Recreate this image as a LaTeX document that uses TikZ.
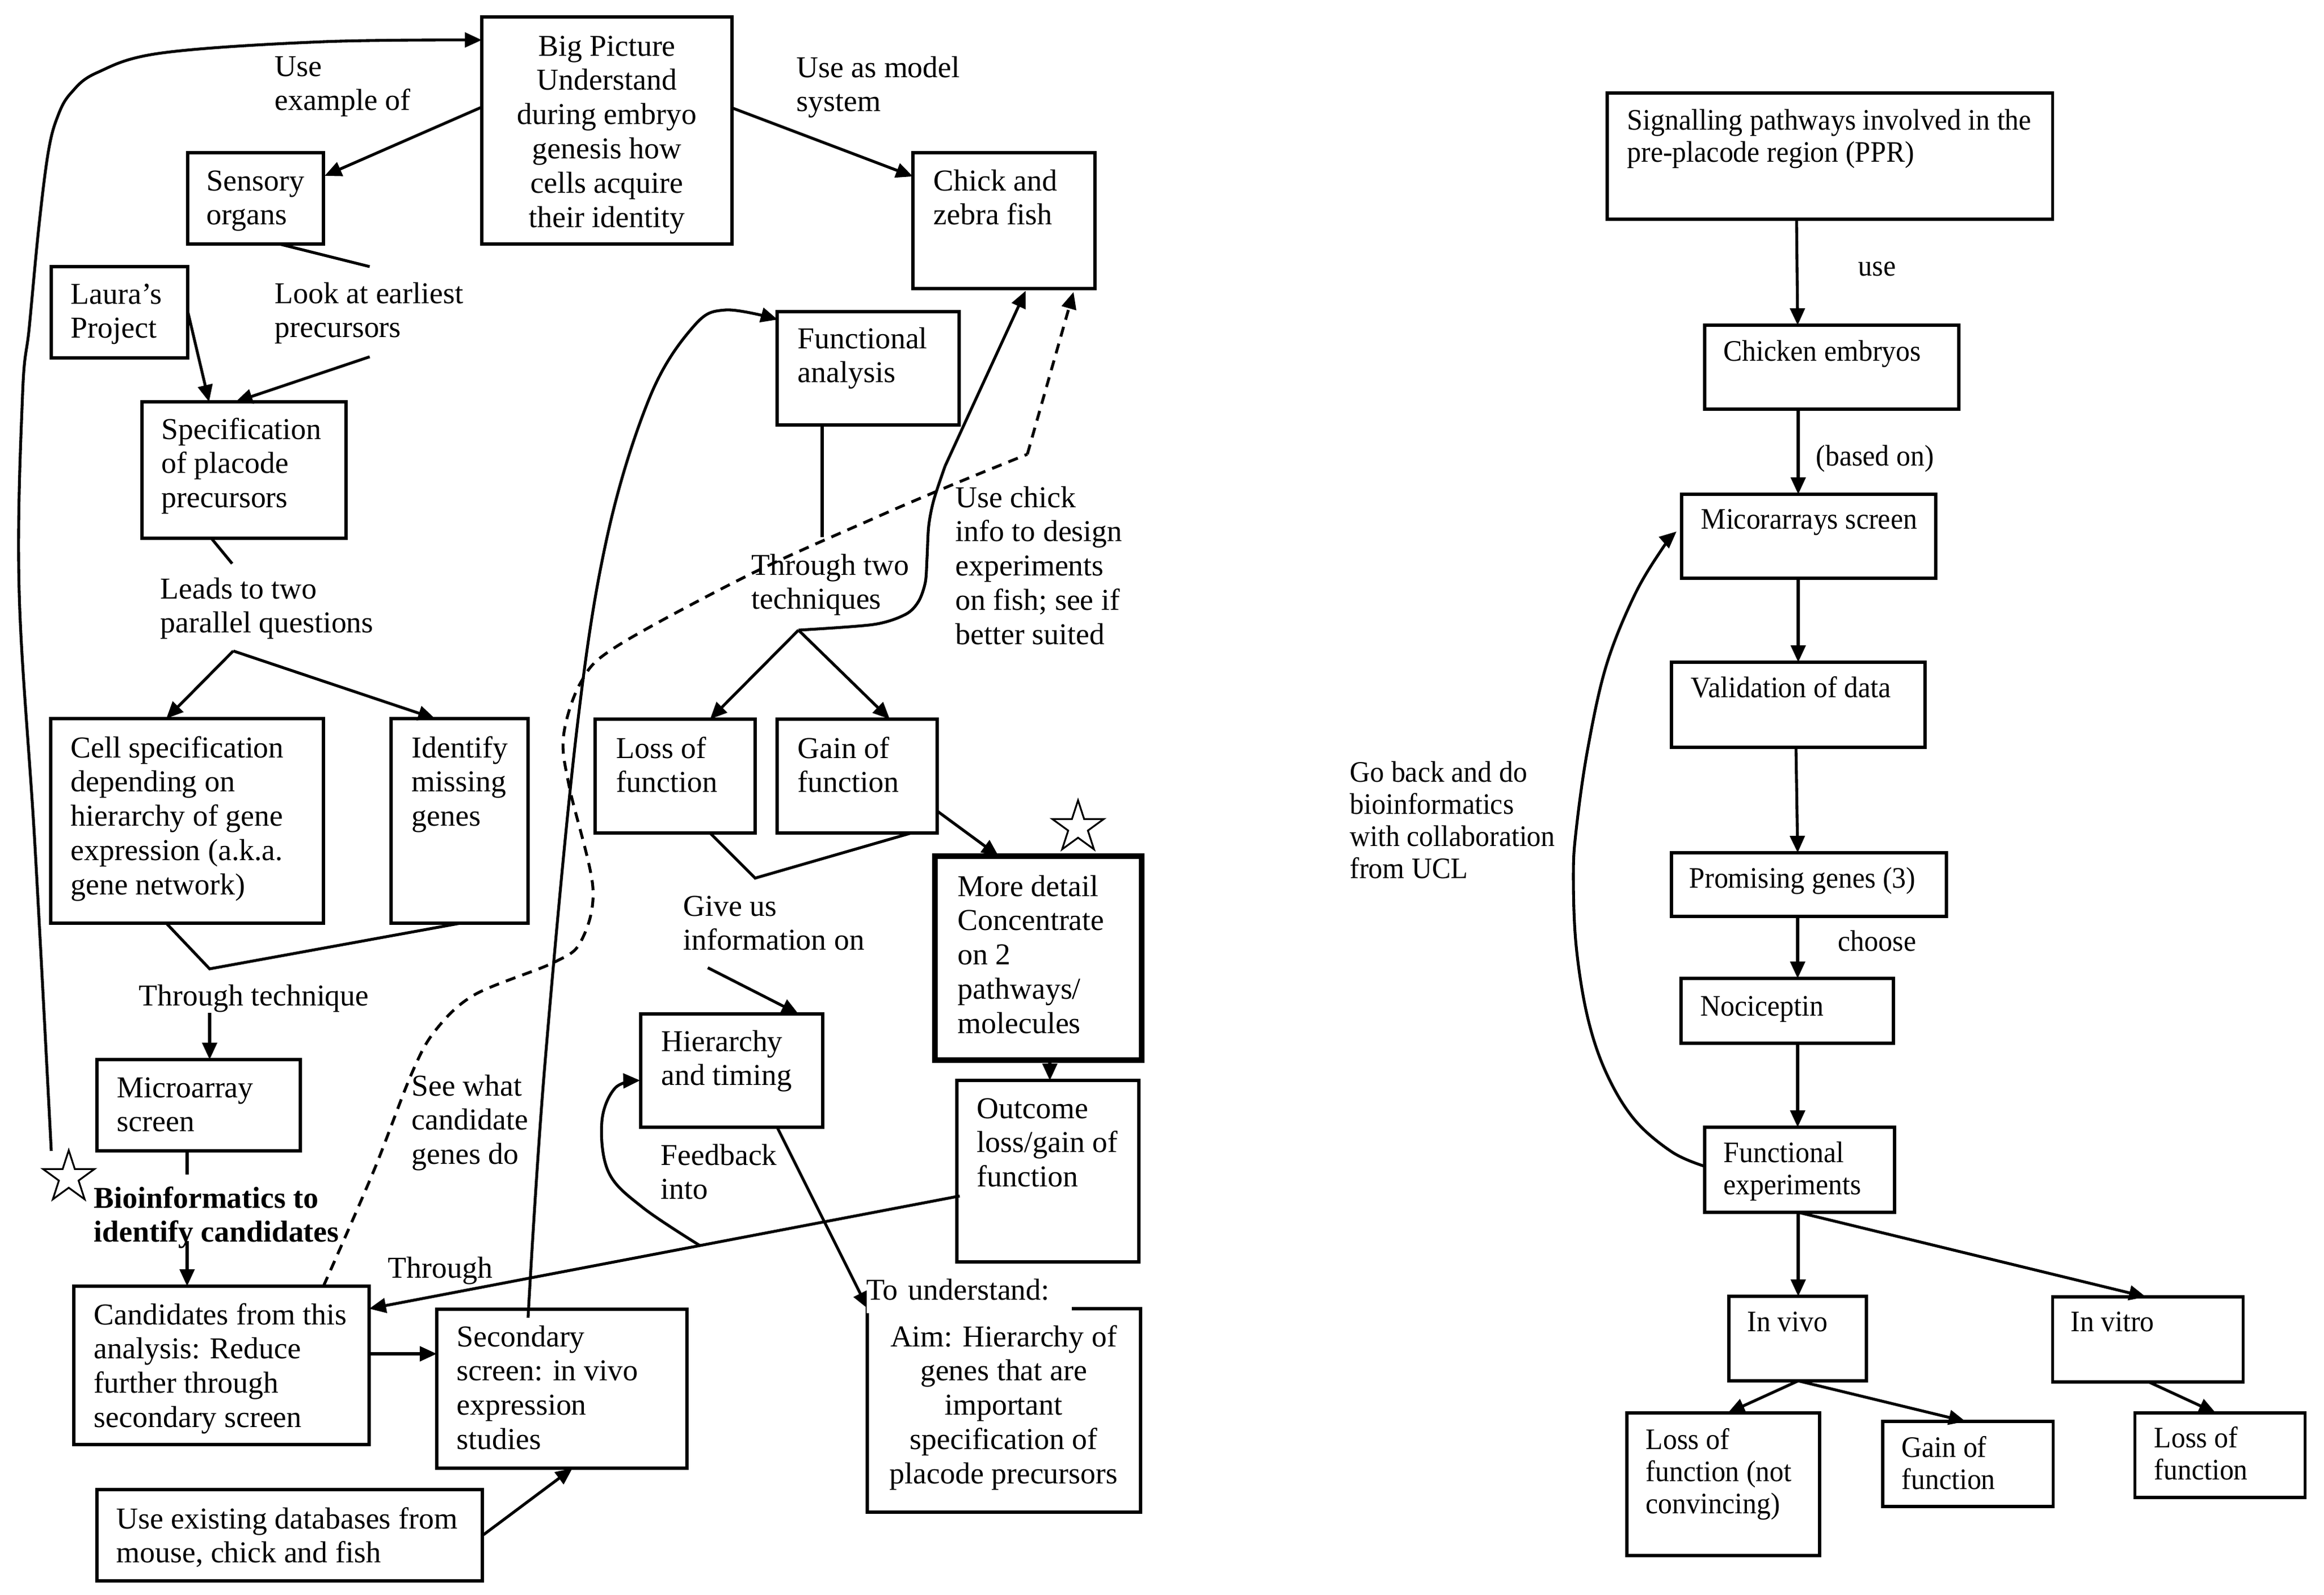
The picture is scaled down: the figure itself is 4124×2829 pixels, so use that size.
\documentclass[tikz,border=0pt]{standalone}
\usepackage{fontspec}
\setmainfont{Liberation Serif}
\newfontfamily\rfam[FakeStretch=0.945]{Liberation Serif}
\usetikzlibrary{arrows.meta,fit,shapes.geometric}
\newcommand{\mytl}[1]{\begin{tabular}[t]{@{}l@{}}#1\end{tabular}}
\newcommand{\mytc}[1]{\begin{tabular}[t]{@{}c@{}}#1\end{tabular}}
\begin{document}
\begin{tikzpicture}[x=0.01cm,y=-0.01cm,
  box/.style={draw, line width=1.45pt, inner sep=0pt},
  thickbox/.style={draw, line width=2.9pt, inner sep=0pt},
  lf/.style={font={\fontsize{15.3}{17.3}\selectfont}},
  lfb/.style={font={\fontsize{15.3}{17.3}\selectfont\bfseries}},
  rf/.style={font={\rfam\fontsize{15}{16.3}\selectfont}},
  tl/.style={anchor=base west, inner sep=0pt},
  tc/.style={anchor=base, inner sep=0pt},
  con/.style={line width=1.45pt},
  arr/.style={con, -{Triangle[length=0.3cm,width=0.26cm]}},
  starnode/.style={star, star points=5, star point ratio=2.618, draw, line width=0.9pt, minimum size=0.96cm, inner sep=0pt}
]
\path[use as bounding box, fill=white] (0,0) rectangle (4124,2829);

% ---------------- left diagram: boxes ----------------
\node[box, fit={(855,30)(1299,433)}] (bp) {};
\node[box, fit={(333,271)(574,433)}] (sens) {};
\node[box, fit={(91,473)(333,635)}] (laura) {};
\node[box, fit={(252,713)(614,955)}] (spec) {};
\node[box, fit={(1620,271)(1943,512)}] (chick) {};
\node[box, fit={(1379,553)(1702,754)}] (fa) {};
\node[box, fit={(90,1275)(574,1638)}] (cell) {};
\node[box, fit={(694,1275)(937,1638)}] (ident) {};
\node[box, fit={(1056,1276)(1340,1478)}] (loss) {};
\node[box, fit={(1379,1276)(1663,1478)}] (gain) {};
\node[thickbox, fit={(1659,1519)(2026,1881)}] (more) {};
\node[box, fit={(1137,1799)(1460,2000)}] (hier) {};
\node[box, fit={(172,1880)(533,2042)}] (micro) {};
\node[box, fit={(1698,1917)(2021,2239)}] (outc) {};
\node[box, fit={(131,2282)(655,2563)}] (cand) {};
\node[box, fit={(775,2323)(1219,2605)}] (sec) {};
\node[box, fit={(1539,2322)(2024,2683)}] (aim) {};
\node[box, fit={(172,2643)(856,2805)}] (db) {};

\node[starnode] (star1) at (122,2089) {};
\node[starnode] (star2) at (1913,1468) {};

% ---------------- left diagram: texts ----------------
\node[tc, lf] (tbp) at (1077,99) {\mytc{Big Picture\\Understand\\during embryo\\genesis how\\cells acquire\\their identity}};
\node[tl, lf] (tuse) at (487,135) {\mytl{Use\\example of}};
\node[tl, lf] (tsens) at (366,338) {\mytl{Sensory\\organs}};
\node[tl, lf] (tlaura) at (125,539) {\mytl{Laura's\\Project}};
\node[tl, lf] (tlook) at (487,538) {\mytl{Look at earliest\\precursors}};
\node[tl, lf] (tspec) at (286,779) {\mytl{Specification\\of placode\\precursors}};
\node[tl, lf] (tmodel) at (1413,137) {\mytl{Use as model\\system}};
\node[tl, lf] (tchick) at (1656,338) {\mytl{Chick and\\zebra fish}};
\node[tl, lf] (tfa) at (1415,618) {\mytl{Functional\\analysis}};
\node[tl, lf] (ttwo) at (1333,1020) {\mytl{Through two\\techniques}};
\node[tl, lf] (tuchick) at (1695,900) {\mytl{Use chick\\info to design\\experiments\\on fish; see if\\better suited}};
\node[tl, lf] (tleads) at (284,1062) {\mytl{Leads to two\\parallel questions}};
\node[tl, lf] (tcell) at (125,1344) {\mytl{Cell specification\\depending on\\hierarchy of gene\\expression (a.k.a.\\gene network)}};
\node[tl, lf] (tident) at (730,1344) {\mytl{Identify\\missing\\genes}};
\node[tl, lf] (tloss) at (1093,1345) {\mytl{Loss of\\function}};
\node[tl, lf] (tgain) at (1415,1345) {\mytl{Gain of\\function}};
\node[tl, lf] (ttech) at (246,1784) {Through technique};
\node[tl, lf] (tgive) at (1212,1625) {\mytl{Give us\\information on}};
\node[tl, lf] (tmore) at (1699,1590) {\mytl{More detail\\Concentrate\\on 2\\pathways/\\molecules}};
\node[tl, lf] (thier) at (1173,1865) {\mytl{Hierarchy\\and timing}};
\node[tl, lf] (tmicro) at (207,1947) {\mytl{Microarray\\screen}};
\node[tl, lf] (tsee) at (730,1944) {\mytl{See what\\candidate\\genes do}};
\node[tl, lf] (toutc) at (1733,1984) {\mytl{Outcome\\loss/gain of\\function}};
\node[tl, lf] (tfeed) at (1172,2067) {\mytl{Feedback\\into}};
\node[tl, lfb] (tbio) at (166,2143) {\mytl{Bioinformatics to\\identify candidates}};
\node[tl, lf] (tthr) at (688,2267) {Through};
\node[tl, lf] (tcand) at (166,2350) {\mytl{Candidates from this\\analysis: Reduce\\further through\\secondary screen}};
\node[tl, lf] (tsec) at (810,2389) {\mytl{Secondary\\screen: in vivo\\expression\\studies}};
\node[tc, lf] (taim) at (1781,2389) {\mytc{Aim: Hierarchy of\\genes that are\\important\\specification of\\placode precursors}};
\node[tl, lf] (tdb) at (206,2712) {\mytl{Use existing databases from\\mouse, chick and fish}};

% ---------------- left diagram: connector end points ----------------
\coordinate (lc1) at (91,2042);   \coordinate (lc2) at (855,71);
\coordinate (bpW) at (855,190);   \coordinate (sensE) at (576,312);
\coordinate (sensS) at (496,433); \coordinate (lookT) at (656,473);
\coordinate (lookB) at (656,633); \coordinate (specN) at (418,713);
\coordinate (lauraE) at (333,552);\coordinate (specN2) at (371,713);
\coordinate (specS) at (375,955); \coordinate (leadsT) at (412,1000);
\coordinate (bpE) at (1298,191);  \coordinate (chickW) at (1620,313);
\coordinate (secN) at (937,2338); \coordinate (faW) at (1380,567);
\coordinate (faS) at (1459,754);  \coordinate (twoT) at (1459,953);
\coordinate (fk2) at (1417,1118);
\coordinate (lossN) at (1260,1276); \coordinate (gainN) at (1579,1276);
\coordinate (bend) at (1677,827);
\coordinate (chickS) at (1820,516); \coordinate (chickS2) at (1905,518);
\coordinate (candN) at (574,2282);  \coordinate (dbend) at (1823,806);
\coordinate (fk1) at (414,1155);
\coordinate (cellN) at (295,1275);  \coordinate (identN) at (772,1275);
\coordinate (cellS) at (295,1638);  \coordinate (v1) at (372,1719); \coordinate (identS) at (817,1638);
\coordinate (techB) at (372,1797);  \coordinate (microN) at (372,1880);
\coordinate (microS) at (332,2042); \coordinate (bioT) at (332,2084);
\coordinate (bioB) at (332,2202);   \coordinate (candN2) at (332,2282);
\coordinate (candE) at (655,2402);  \coordinate (secW) at (775,2402);
\coordinate (dbE) at (858,2723);    \coordinate (secS) at (1016,2605);
\coordinate (outW) at (1703,2122);  \coordinate (candNE) at (655,2322);
\coordinate (hierS) at (1379,2000); \coordinate (aimNW) at (1540,2322);
\coordinate (giveB) at (1256,1717); \coordinate (hierN) at (1417,1799);
\coordinate (gainE) at (1663,1439); \coordinate (moreN) at (1772,1519);
\coordinate (moreS) at (1863,1881); \coordinate (outN) at (1863,1917);
\coordinate (lossS) at (1260,1478); \coordinate (v2) at (1340,1558); \coordinate (gainS) at (1617,1478);
\coordinate (fbS) at (1242,2210);   \coordinate (hierW) at (1136,1917);

% ---------------- left diagram: connectors ----------------
\draw[arr] plot[smooth, tension=0.6] coordinates {(lc1) (62,1500) (34,1050) (40,700) (52,580) (69,402) (86,268) (103,205) (126,165) (172,129) (287,94) (574,74) (lc2)};
\draw[arr] (bpW) -- (sensE);
\draw[con] (sensS) -- (lookT);
\draw[arr] (lookB) -- (specN);
\draw[arr] (lauraE) -- (specN2);
\draw[con] (specS) -- (leadsT);
\draw[arr] (bpE) -- (chickW);
\draw[arr] plot[smooth, tension=0.6] coordinates {(secN) (966,1900) (1023,1300) (1077,954) (1153,705) (1230,580) (1287,550) (faW)};
\draw[con] (faS) -- (twoT);
\draw[arr] (fk2) -- (lossN);
\draw[arr] (fk2) -- (gainN);
\draw[con] plot[smooth, tension=0.5] coordinates {(fk2) (1550,1108) (1607,1090) (1630,1067) (1642,1033) (1645,990) (1648,933) (1657,887) (bend)};
\draw[arr] (bend) -- (chickS);
\draw[con, dashed, dash pattern=on 0.18cm off 0.13cm] plot[smooth, tension=0.55] coordinates {(candN) (663,2078) (730,1906) (772,1829) (842,1765) (982,1708) (1031,1670) (1052,1574) (1010,1395) (1000,1306) (1031,1210) (1094,1147) (1329,1020) (1550,920) (1683,863) (dbend)};
\draw[arr, dashed, dash pattern=on 0.18cm off 0.13cm] (dbend) -- (chickS2);
\draw[arr] (fk1) -- (cellN);
\draw[arr] (fk1) -- (identN);
\draw[con] (cellS) -- (v1) -- (identS);
\draw[arr] (techB) -- (microN);
\draw[con] (microS) -- (bioT);
\draw[arr] (bioB) -- (candN2);
\draw[arr] (candE) -- (secW);
\draw[arr] (dbE) -- (secS);
\draw[arr] (outW) -- (candNE);
\draw[arr] (hierS) -- (aimNW);
\draw[arr] (giveB) -- (hierN);
\draw[arr] (gainE) -- (moreN);
\draw[arr] (moreS) -- (outN);
\draw[con] (lossS) -- (v2) -- (gainS);
\draw[arr] plot[smooth, tension=0.6] coordinates {(fbS) (1140,2142) (1080,2080) (1068,1990) (1092,1930) (hierW)};

\node[anchor=base west, inner sep=0pt, fill=white, text width=3.64cm, text depth=0.24cm, lf] (tund) at (1537,2306) {To understand:};

% ---------------- right diagram ----------------
\node[box, fit={(2852,165)(3642,389)}] (sig) {};
\node[box, fit={(3025,577)(3476,726)}] (chem) {};
\node[box, fit={(2984,877)(3435,1026)}] (mic) {};
\node[box, fit={(2966,1175)(3416,1326)}] (val) {};
\node[box, fit={(2966,1513)(3454,1626)}] (prom) {};
\node[box, fit={(2983,1736)(3360,1851)}] (noci) {};
\node[box, fit={(3025,2000)(3362,2151)}] (fexp) {};
\node[box, fit={(3068,2300)(3312,2450)}] (invivo) {};
\node[box, fit={(3642,2301)(3980,2452)}] (invitro) {};
\node[box, fit={(2887,2507)(3229,2760)}] (lofa) {};
\node[box, fit={(3341,2522)(3643,2673)}] (gofa) {};
\node[box, fit={(3788,2507)(4090,2657)}] (lofb) {};

\node[tl, rf] (tsig) at (2887,230) {\mytl{Signalling pathways involved in the\\pre-placode region (PPR)}};
\node[tl, rf] (tusek) at (3297,489) {use};
\node[tl, rf] (tchem) at (3058,640) {Chicken embryos};
\node[tl, rf] (tbased) at (3222,826) {(based on)};
\node[tl, rf] (tmic) at (3018,938) {Micorarrays screen};
\node[tl, rf] (tval) at (3000,1237) {Validation of data};
\node[tl, rf] (tprom) at (2997,1575) {Promising genes (3)};
\node[tl, rf] (tchoose) at (3261,1687) {choose};
\node[tl, rf] (tnoci) at (3017,1802) {Nociceptin};
\node[tl, rf] (tfexp) at (3058,2062) {\mytl{Functional\\experiments}};
\node[tl, rf] (tgoback) at (2395,1387) {\mytl{Go back and do\\bioinformatics\\with collaboration\\from UCL}};
\node[tl, rf] (tinvivo) at (3100,2362) {In vivo};
\node[tl, rf] (tinvitro) at (3674,2362) {In vitro};
\node[tl, rf] (tlofa) at (2920,2571) {\mytl{Loss of\\function (not\\convincing)}};
\node[tl, rf] (tgofa) at (3374,2585) {\mytl{Gain of\\function}};
\node[tl, rf] (tlofb) at (3822,2568) {\mytl{Loss of\\function}};

\coordinate (sigS) at (3188,389);   \coordinate (chemN) at (3190,577);
\coordinate (chemS) at (3191,726);  \coordinate (micN) at (3191,877);
\coordinate (micS) at (3191,1026);  \coordinate (valN) at (3191,1175);
\coordinate (valS) at (3187,1326);  \coordinate (promN) at (3190,1513);
\coordinate (promS) at (3190,1626); \coordinate (nociN) at (3190,1736);
\coordinate (nociS) at (3190,1851); \coordinate (fexpN) at (3190,2000);
\coordinate (fexpS) at (3191,2151); \coordinate (invivoN) at (3191,2300);
\coordinate (invitroN) at (3808,2301);
\coordinate (invivoS) at (3191,2450); \coordinate (lofaN) at (3066,2507);
\coordinate (gofaN) at (3488,2522);
\coordinate (invitroS) at (3813,2452); \coordinate (lofbN) at (3932,2507);
\coordinate (fexpW) at (3024,2069); \coordinate (micW) at (2975,943);

\draw[arr] (sigS) -- (chemN);
\draw[arr] (chemS) -- (micN);
\draw[arr] (micS) -- (valN);
\draw[arr] (valS) -- (promN);
\draw[arr] (promS) -- (nociN);
\draw[arr] (nociS) -- (fexpN);
\draw[arr] (fexpS) -- (invivoN);
\draw[arr] (fexpS) -- (invitroN);
\draw[arr] (invivoS) -- (lofaN);
\draw[arr] (invivoS) -- (gofaN);
\draw[arr] (invitroS) -- (lofbN);
\draw[arr] plot[smooth, tension=0.6] coordinates {(fexpW) (2967,2044) (2900,1986) (2850,1903) (2817,1804) (2797,1679) (2792,1555) (2797,1472) (2817,1331) (2850,1182) (2900,1057) (2950,973) (micW)};
\end{tikzpicture}
\end{document}
